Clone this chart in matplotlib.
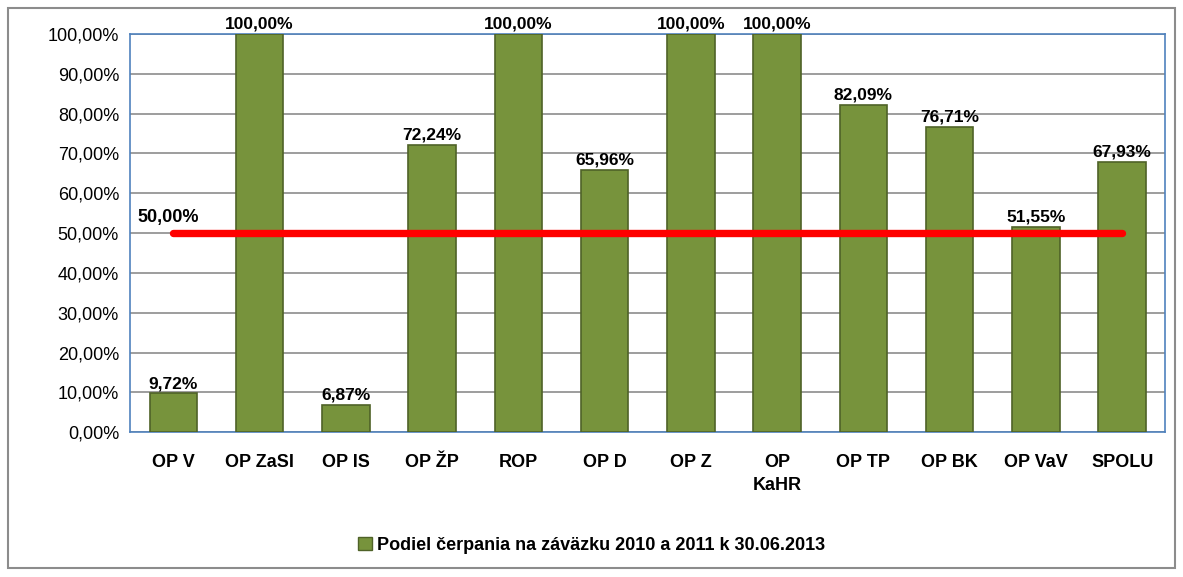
import numpy as np
import matplotlib.pyplot as plt
from matplotlib.patches import Rectangle
from matplotlib.ticker import FuncFormatter

plt.rcParams['font.family'] = ['Liberation Sans Narrow', 'Liberation Sans', 'DejaVu Sans']

categories = ['OP V', 'OP ZaSI', 'OP IS', 'OP ŽP', 'ROP', 'OP D', 'OP Z', 'OP\nKaHR',
              'OP TP', 'OP BK', 'OP VaV', 'SPOLU']
values = [9.72, 100.00, 6.87, 72.24, 100.00, 65.96, 100.00, 100.00, 82.09, 76.71, 51.55, 67.93]
threshold = 50.0
legend_label = 'Podiel čerpania na záväzku 2010 a 2011 k 30.06.2013'

def pct(v):
    return f'{v:.2f}'.replace('.', ',') + '%'

fig = plt.figure(figsize=(11.83, 5.77), dpi=100)
fig.patches.append(Rectangle((0.007, 0.015), 0.986, 0.972, transform=fig.transFigure,
                             fill=False, edgecolor='#8c8c8c', linewidth=1.5))
ax = fig.add_axes([0.110, 0.251, 0.875, 0.690])

x = np.arange(len(categories))
ax.bar(x, values, width=0.55, color='#77933c', edgecolor='#4f6228', linewidth=1.2, zorder=3)
for xi, v in zip(x, values):
    ax.text(xi, v + 0.6, pct(v), ha='center', va='bottom', fontsize=12.5,
            fontweight='bold', zorder=5)

ax.plot([x[0], x[-1]], [threshold, threshold], color='#ff0000', linewidth=5.3,
        solid_capstyle='round', zorder=4)
ax.text(x[0] - 0.42, threshold + 1.8, pct(threshold), ha='left', va='bottom',
        fontsize=13, fontweight='bold', zorder=5)

ax.set_xlim(-0.5, len(categories) - 0.5)
ax.set_ylim(0, 100)
ax.set_yticks(np.arange(0, 101, 10))
ax.yaxis.set_major_formatter(FuncFormatter(lambda v, p: pct(v)))
ax.set_xticks(x)
ax.set_xticklabels(categories, fontsize=13, fontweight='bold', linespacing=1.45)
ax.tick_params(axis='y', labelsize=13, length=0, pad=8)
ax.tick_params(axis='x', length=0, pad=16)
ax.grid(axis='y', color='#8c8c8c', linewidth=1.2, zorder=0)
for s in ax.spines.values():
    s.set_color('#4f81bd')
    s.set_linewidth(1.2)

handle = Rectangle((0, 0), 1, 1, facecolor='#77933c', edgecolor='#4f6228')
fig.legend([handle], [legend_label], loc='center', bbox_to_anchor=(0.5, 0.055),
           frameon=False, prop={'size': 13, 'weight': 'bold'},
           handlelength=0.8, handleheight=0.8, handletextpad=0.3)

fig.savefig('out.png', dpi=100)
